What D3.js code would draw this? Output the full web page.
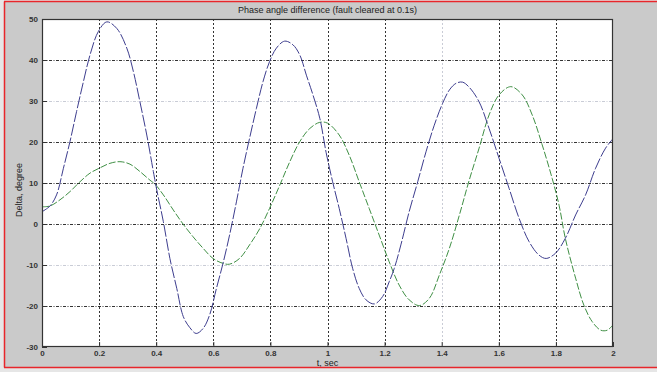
<!DOCTYPE html>
<html>
<head>
<meta charset="utf-8">
<script src="https://cdn.jsdelivr.net/npm/d3@7/dist/d3.min.js"></script>
<style>
  html, body { margin: 0; padding: 0; background: #eeeeee; }
  svg { display: block; }
  text { font-family: "Liberation Sans", Arial, sans-serif; }
</style>
</head>
<body>
<svg id="chart" width="657" height="372"></svg>
<script>
// Rotor angle difference, generator 1 (blue) and generator 2 (green)
const blueT = [0, 0.028, 0.051, 0.075, 0.098, 0.121, 0.145, 0.168, 0.197, 0.227, 0.262, 0.297, 0.320, 0.343, 0.367, 0.390, 0.402, 0.425, 0.448, 0.472, 0.495, 0.517, 0.540, 0.564, 0.587, 0.611, 0.634, 0.657, 0.681, 0.704, 0.727, 0.751, 0.774, 0.797, 0.821, 0.850, 0.879, 0.903, 0.926, 0.949, 0.973, 0.995, 1.018, 1.041, 1.065, 1.088, 1.111, 1.135, 1.164, 1.193, 1.216, 1.234, 1.257, 1.286, 1.316, 1.345, 1.374, 1.403, 1.427, 1.450, 1.473, 1.497, 1.531, 1.566, 1.601, 1.636, 1.671, 1.706, 1.741, 1.766, 1.799, 1.833, 1.869, 1.904, 1.939, 1.974, 2.0];
const blueV = [3.0, 4.4, 7.1, 13.6, 20.1, 27.4, 34.7, 41.2, 46.9, 49.3, 47.7, 42.9, 37.2, 29.8, 21.7, 12.8, 8.3, 0.6, -8.4, -15.7, -22.6, -25.2, -26.7, -25.5, -22.2, -15.7, -9.6, -2.7, 5.4, 13.6, 20.9, 28.2, 34.7, 39.6, 42.9, 44.6, 43.7, 41.2, 36.3, 31.5, 25.8, 17.5, 10.3, 3.8, -3.5, -10.8, -15.7, -18.5, -19.5, -17.7, -14.1, -10.8, -5.1, 3.0, 10.3, 17.6, 24.1, 29.4, 32.7, 34.3, 34.6, 33.3, 29.8, 23.3, 16.0, 8.7, 1.4, -4.3, -7.6, -8.4, -7.1, -3.5, 2.2, 7.1, 13.6, 18.5, 20.8];

const greenT = [0, 0.028, 0.063, 0.098, 0.133, 0.168, 0.203, 0.238, 0.273, 0.308, 0.343, 0.378, 0.396, 0.425, 0.460, 0.494, 0.529, 0.564, 0.599, 0.634, 0.657, 0.692, 0.727, 0.763, 0.797, 0.833, 0.868, 0.903, 0.938, 0.973, 1.0, 1.041, 1.076, 1.111, 1.146, 1.181, 1.216, 1.251, 1.286, 1.322, 1.357, 1.392, 1.427, 1.462, 1.496, 1.531, 1.566, 1.601, 1.642, 1.682, 1.717, 1.752, 1.787, 1.811, 1.833, 1.869, 1.898, 1.927, 1.957, 1.980, 2.0];
const greenV = [4.2, 4.4, 5.9, 7.9, 10.3, 12.4, 13.7, 14.8, 15.2, 14.6, 12.8, 10.7, 9.7, 7.1, 3.4, 0.0, -3.1, -5.9, -8.4, -9.6, -9.8, -8.4, -5.1, -1.1, 3.8, 9.5, 15.2, 20.1, 23.3, 24.8, 24.6, 21.7, 16.8, 10.3, 3.8, -2.7, -9.2, -14.9, -18.5, -19.9, -18.1, -12.4, -5.9, 2.2, 10.6, 18.5, 26.6, 31.5, 33.5, 31.5, 26.6, 19.3, 11.1, 4.6, -3.5, -13.2, -19.8, -23.8, -25.9, -25.9, -24.6];

const xTicks = [0, 0.2, 0.4, 0.6, 0.8, 1, 1.2, 1.4, 1.6, 1.8, 2];
const xTickLabels = ["0", "0.2", "0.4", "0.6", "0.8", "1", "1.2", "1.4", "1.6", "1.8", "2"];
const yTicks = [-30, -20, -10, 0, 10, 20, 30, 40, 50];
const yTickLabels = ["-30", "-20", "-10", "0", "10", "20", "30", "40", "50"];
// grid lines that render pale in this figure
const paleX = [1.4];
const paleY = [30, -10];

const titleText = "Phase angle difference (fault cleared at 0.1s)";
const xLabel = "t, sec";
const yLabel = "Delta, degree";

const W = 657, H = 372;
const plot = { left: 42, top: 19, right: 613, bottom: 347 };

const svg = d3.select("#chart");

// figure window: grey panel
svg.append("rect").attr("x", 0).attr("y", 0).attr("width", W).attr("height", H).attr("fill", "#e6e6e6");
svg.append("rect").attr("x", 4).attr("y", 1.5).attr("width", W - 4).attr("height", 366).attr("fill", "#cacaca");

const x = d3.scaleLinear().domain([0, 2]).range([plot.left, plot.right]);
const y = d3.scaleLinear().domain([-30, 50]).range([plot.bottom, plot.top]);

// axes background
svg.append("rect")
  .attr("x", plot.left).attr("y", plot.top)
  .attr("width", plot.right - plot.left).attr("height", plot.bottom - plot.top)
  .attr("fill", "#ffffff");

// grid
const grid = svg.append("g");
grid.selectAll("line.gx").data(xTicks.slice(1, -1)).join("line")
  .attr("x1", d => Math.round(x(d)) + 0.5).attr("x2", d => Math.round(x(d)) + 0.5)
  .attr("y1", plot.top).attr("y2", plot.bottom)
  .attr("stroke", d => paleX.includes(d) ? "#c9ccd6" : "#333")
  .attr("stroke-width", 1)
  .attr("stroke-dasharray", "2,2");
grid.selectAll("line.gy").data(yTicks.slice(1, -1)).join("line")
  .attr("y1", d => Math.round(y(d)) + 0.5).attr("y2", d => Math.round(y(d)) + 0.5)
  .attr("x1", plot.left).attr("x2", plot.right)
  .attr("stroke", d => paleY.includes(d) ? "#c9ccd6" : "#333")
  .attr("stroke-width", 1)
  .attr("stroke-dasharray", "3,1.5,1,1.5");

// curves
const lineGen = d3.line().x(d => x(d[0])).y(d => y(d[1])).curve(d3.curveCatmullRom.alpha(0.5));
const bluePts = blueT.map((t, i) => [t, blueV[i]]);
const greenPts = greenT.map((t, i) => [t, greenV[i]]);

svg.append("clipPath").attr("id", "pclip").append("rect")
  .attr("x", plot.left).attr("y", plot.top)
  .attr("width", plot.right - plot.left).attr("height", plot.bottom - plot.top);

const curves = svg.append("g").attr("clip-path", "url(#pclip)");
curves.append("path").datum(greenPts)
  .attr("d", lineGen).attr("fill", "none")
  .attr("stroke", "#3f8f44").attr("stroke-width", 1)
  .attr("stroke-dasharray", "7,2");
curves.append("path").datum(bluePts)
  .attr("d", lineGen).attr("fill", "none")
  .attr("stroke", "#3d3d8e").attr("stroke-width", 1)
  .attr("stroke-dasharray", "12,2");

// axes box
svg.append("rect")
  .attr("x", plot.left + 0.5).attr("y", plot.top + 0.5)
  .attr("width", plot.right - plot.left - 1).attr("height", plot.bottom - plot.top - 1)
  .attr("fill", "none").attr("stroke", "#333").attr("stroke-width", 1.2);

// inward ticks
const xAxis = d3.axisBottom(x).tickValues(xTicks).tickSize(-5).tickFormat((d, i) => xTickLabels[i]).tickPadding(3);
const gx = svg.append("g").attr("transform", `translate(0,${plot.bottom})`).call(xAxis);
gx.select(".domain").remove();
gx.selectAll(".tick line").attr("stroke", "#333");
gx.selectAll(".tick text").attr("fill", "#333").attr("font-size", 8).attr("font-weight", "bold").attr("dy", "0.75em");

const yAxis = d3.axisLeft(y).tickValues(yTicks).tickSize(-5).tickFormat((d, i) => yTickLabels[i]).tickPadding(4);
const gy = svg.append("g").attr("transform", `translate(${plot.left},0)`).call(yAxis);
gy.select(".domain").remove();
gy.selectAll(".tick line").attr("stroke", "#333");
gy.selectAll(".tick text").attr("fill", "#333").attr("font-size", 8).attr("font-weight", "bold");

// title and axis labels
svg.append("text").attr("x", (plot.left + plot.right) / 2).attr("y", 13)
  .attr("text-anchor", "middle").attr("font-size", 9).attr("fill", "#222").text(titleText);
svg.append("text").attr("x", (plot.left + plot.right) / 2).attr("y", 366)
  .attr("text-anchor", "middle").attr("font-size", 9).attr("fill", "#222").text(xLabel);
svg.append("text")
  .attr("transform", `translate(22,${(plot.top + plot.bottom) / 2 + 7}) rotate(-90)`)
  .attr("text-anchor", "middle").attr("font-size", 9).attr("fill", "#222").text(yLabel);

// red frame on left, top and bottom of the window
const red = "#e8262b";
svg.append("line").attr("x1", 4).attr("x2", W).attr("y1", 1.5).attr("y2", 1.5).attr("stroke", red).attr("stroke-width", 1.5);
svg.append("line").attr("x1", 4).attr("x2", W).attr("y1", 367.5).attr("y2", 367.5).attr("stroke", red).attr("stroke-width", 1.5);
svg.append("line").attr("x1", 4.5).attr("x2", 4.5).attr("y1", 1.5).attr("y2", 367.5).attr("stroke", red).attr("stroke-width", 1.5);
</script>
</body>
</html>
